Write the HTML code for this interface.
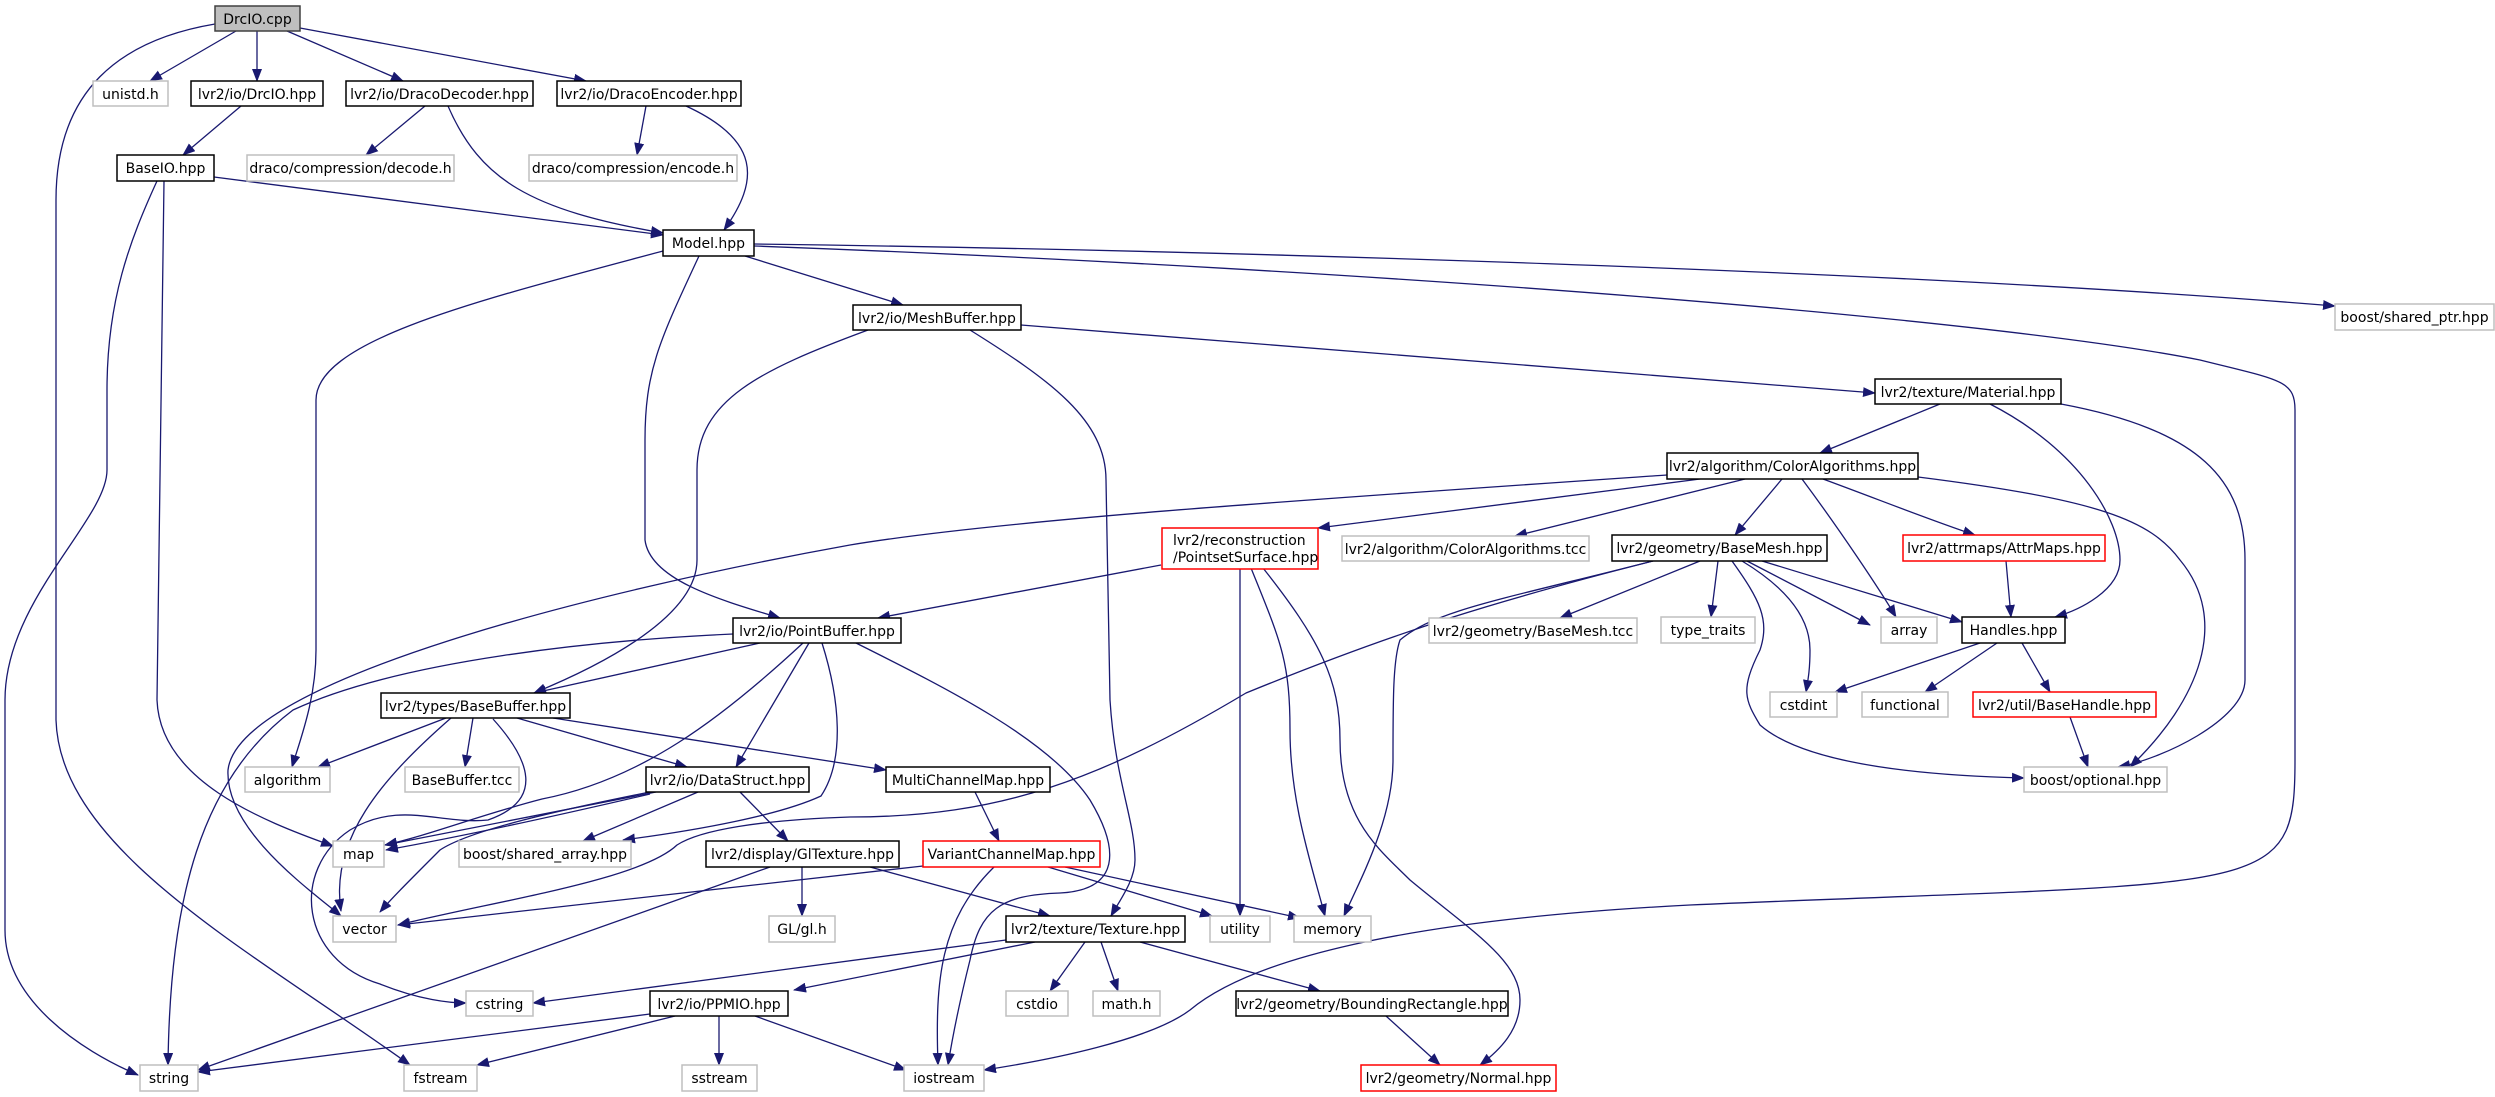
<!DOCTYPE html>
<html><head><meta charset="utf-8"><style>
html,body{margin:0;padding:0;background:#fff;}
svg{display:block;}
text{font-family:"DejaVu Sans","Liberation Sans",sans-serif;font-size:14px;fill:#000;}
.b{fill:#fff;stroke:#000;stroke-width:1.5;}
.g{fill:#fff;stroke:#bfbfbf;stroke-width:1.5;}
.r{fill:#fff;stroke:#ff0000;stroke-width:1.5;}
.e{fill:none;stroke:#191970;stroke-width:1.3;}
</style></head><body>
<svg width="2495" height="1097" viewBox="0 0 2495 1097" xmlns="http://www.w3.org/2000/svg">
<defs><marker id="a" markerUnits="userSpaceOnUse" markerWidth="13" markerHeight="10" refX="12" refY="5" orient="auto"><path d="M0,0 L13,5 L0,10 z" fill="#191970"/></marker></defs>
<g class="e" marker-end="url(#a)">
<path d="M236,31 L150,81"/>
<path d="M257,31 L257,81"/>
<path d="M287,31 L403,81"/>
<path d="M300,28 L586,81"/>
<path d="M215,24 C120,40 56,90 56,200 L56,720 C60,850 250,950 410,1065"/>
<path d="M241,106 L183,155"/>
<path d="M425,106 L366,155"/>
<path d="M448,106 C480,180 530,210 663,233"/>
<path d="M646,106 L637,155"/>
<path d="M686,106 C760,140 760,180 724,230"/>
<path d="M214,177 L663,235"/>
<path d="M157,181 C130,240 107,300 107,390 L107,470 C107,520 5,600 5,700 L5,930 C5,1000 80,1050 138,1075"/>
<path d="M164,181 L157,700 C160,780 260,820 333,846"/>
<path d="M663,251 C480,300 316,340 316,400 L316,650 C316,700 300,740 292,767"/>
<path d="M699,256 C660,340 645,370 645,440 L645,540 C650,580 720,600 780,618"/>
<path d="M745,256 L903,305"/>
<path d="M754,244 C1200,250 1900,270 2335,306"/>
<path d="M754,246 C1400,270 2000,320 2200,360 C2280,380 2295,380 2295,410 L2295,760 C2295,900 2270,880 1690,905 C1400,920 1250,960 1190,1010 C1150,1040 1050,1060 984,1070"/>
<path d="M868,330 C760,370 697,400 697,470 L697,560 C697,620 590,670 534,693"/>
<path d="M970,330 C1050,380 1106,420 1106,480 L1110,700 C1115,780 1135,820 1135,860 C1135,880 1120,900 1111,916"/>
<path d="M1021,325 L1875,393"/>
<path d="M1940,404 L1820,453"/>
<path d="M1990,404 C2080,450 2120,520 2120,560 C2120,590 2080,610 2055,617"/>
<path d="M2061,404 C2200,430 2245,480 2245,560 L2245,680 C2245,720 2160,760 2118,767"/>
<path d="M1667,475 C1300,500 1000,520 850,545 C600,590 238,680 228,770 C225,830 310,890 341,916"/>
<path d="M1700,479 L1318,528"/>
<path d="M1745,479 L1515,536"/>
<path d="M1782,479 L1735,535"/>
<path d="M1802,479 C1840,530 1880,590 1896,617"/>
<path d="M1823,479 C1880,500 1930,520 1975,535"/>
<path d="M1918,477 C2100,500 2150,520 2180,560 C2230,620 2200,700 2130,767"/>
<path d="M1161,565 L878,618"/>
<path d="M1240,568 L1240,916"/>
<path d="M1251,568 C1280,640 1290,660 1290,730 C1290,800 1310,860 1325,916"/>
<path d="M1263,568 C1320,640 1340,680 1340,740 C1340,820 1380,850 1410,880 C1470,930 1520,960 1520,1000 C1520,1030 1500,1050 1480,1065"/>
<path d="M1653,561 C1500,600 1400,630 1246,693 C1100,780 1000,817 850,817 C760,820 700,830 677,845 C640,880 500,900 398,925"/>
<path d="M1653,561 C1500,600 1436,610 1400,640 C1393,660 1393,700 1393,760 C1393,820 1360,880 1344,916"/>
<path d="M1700,561 L1560,618"/>
<path d="M1718,561 L1711,617"/>
<path d="M1747,561 L1870,625"/>
<path d="M1762,561 L1962,622"/>
<path d="M1742,561 C1790,590 1810,620 1810,650 C1810,670 1808,680 1806,692"/>
<path d="M1732,561 C1760,600 1770,620 1760,650 C1740,690 1745,700 1760,725 C1800,760 1900,775 2024,778"/>
<path d="M2006,561 L2011,617"/>
<path d="M1980,643 L1835,692"/>
<path d="M1997,643 L1925,692"/>
<path d="M2022,643 L2050,692"/>
<path d="M2070,717 L2088,767"/>
<path d="M733,634 C600,640 400,660 293,710 C200,780 170,900 168,1065"/>
<path d="M760,643 L534,693"/>
<path d="M803,643 C720,720 640,780 542,799 C480,815 430,835 385,845"/>
<path d="M809,643 L736,767"/>
<path d="M822,643 C840,700 845,760 821,796 C780,815 700,830 623,840"/>
<path d="M856,643 C950,690 1050,740 1090,800 C1120,850 1120,890 1060,893 C1000,895 980,910 970,960 C960,1000 952,1040 948,1065"/>
<path d="M446,718 L318,767"/>
<path d="M451,718 C380,780 330,840 341,911"/>
<path d="M473,718 L465,767"/>
<path d="M493,719 C530,760 545,800 488,820 C440,825 400,800 350,830 C290,870 300,960 380,984 C420,1000 450,1003 466,1003"/>
<path d="M517,718 L687,767"/>
<path d="M553,718 L886,770"/>
<path d="M656,792 L385,845"/>
<path d="M650,794 C560,815 470,835 386,850"/>
<path d="M698,792 L583,841"/>
<path d="M650,792 C560,810 470,830 440,850 C410,880 390,900 380,912"/>
<path d="M740,792 L788,841"/>
<path d="M802,867 L802,916"/>
<path d="M870,867 L1050,916"/>
<path d="M770,867 L198,1070"/>
<path d="M923,866 L398,925"/>
<path d="M975,792 L999,841"/>
<path d="M1048,867 L1212,916"/>
<path d="M1065,867 L1300,918"/>
<path d="M994,867 C940,920 935,980 938,1065"/>
<path d="M1006,940 L533,1003"/>
<path d="M1035,942 L794,990"/>
<path d="M1085,942 L1050,991"/>
<path d="M1101,942 L1118,991"/>
<path d="M1140,942 L1320,991"/>
<path d="M1386,1016 L1440,1065"/>
<path d="M650,1014 L198,1072"/>
<path d="M675,1016 L477,1065"/>
<path d="M719,1016 L719,1065"/>
<path d="M755,1016 L906,1070"/>
</g>
<g text-anchor="middle">
<rect x="215" y="6" width="85" height="25" fill="#bfbfbf" stroke="#404040" stroke-width="1.5"/><text x="257.5" y="24">DrcIO.cpp</text>
<rect class="g" x="93" y="81" width="75" height="25"/><text x="130.5" y="99">unistd.h</text>
<rect class="b" x="191" y="81" width="132" height="25"/><text x="257" y="99">lvr2/io/DrcIO.hpp</text>
<rect class="b" x="346" y="81" width="187" height="25"/><text x="439.5" y="99">lvr2/io/DracoDecoder.hpp</text>
<rect class="b" x="557" y="81" width="184" height="25"/><text x="649" y="99">lvr2/io/DracoEncoder.hpp</text>
<rect class="b" x="117" y="155" width="97" height="26"/><text x="165.5" y="173">BaseIO.hpp</text>
<rect class="g" x="247" y="155" width="207" height="26"/><text x="350.5" y="173">draco/compression/decode.h</text>
<rect class="g" x="529" y="155" width="208" height="26"/><text x="633" y="173">draco/compression/encode.h</text>
<rect class="b" x="663" y="230" width="91" height="26"/><text x="708.5" y="248">Model.hpp</text>
<rect class="b" x="853" y="305" width="168" height="25"/><text x="937" y="323">lvr2/io/MeshBuffer.hpp</text>
<rect class="g" x="2335" y="304" width="159" height="26"/><text x="2414.5" y="322">boost/shared_ptr.hpp</text>
<rect class="b" x="1875" y="379" width="186" height="25"/><text x="1968" y="397">lvr2/texture/Material.hpp</text>
<rect class="b" x="1667" y="453" width="251" height="26"/><text x="1792.5" y="471">lvr2/algorithm/ColorAlgorithms.hpp</text>
<rect class="r" x="1162" y="528" width="156" height="41"/>
<rect class="g" x="1342" y="536" width="247" height="25"/><text x="1465.5" y="554">lvr2/algorithm/ColorAlgorithms.tcc</text>
<rect class="b" x="1612" y="535" width="215" height="26"/><text x="1719.5" y="553">lvr2/geometry/BaseMesh.hpp</text>
<rect class="r" x="1903" y="535" width="202" height="26"/><text x="2004" y="553">lvr2/attrmaps/AttrMaps.hpp</text>
<rect class="b" x="733" y="618" width="168" height="25"/><text x="817" y="636">lvr2/io/PointBuffer.hpp</text>
<rect class="g" x="1429" y="618" width="208" height="25"/><text x="1533" y="636">lvr2/geometry/BaseMesh.tcc</text>
<rect class="g" x="1661" y="617" width="94" height="26"/><text x="1708" y="635">type_traits</text>
<rect class="g" x="1881" y="617" width="56" height="26"/><text x="1909" y="635">array</text>
<rect class="b" x="1962" y="617" width="103" height="26"/><text x="2013.5" y="635">Handles.hpp</text>
<rect class="b" x="381" y="693" width="189" height="25"/><text x="475.5" y="711">lvr2/types/BaseBuffer.hpp</text>
<rect class="g" x="1770" y="692" width="67" height="25"/><text x="1803.5" y="710">cstdint</text>
<rect class="g" x="1862" y="692" width="86" height="25"/><text x="1905" y="710">functional</text>
<rect class="r" x="1973" y="692" width="183" height="25"/><text x="2064.5" y="710">lvr2/util/BaseHandle.hpp</text>
<rect class="g" x="245" y="767" width="85" height="25"/><text x="287.5" y="785">algorithm</text>
<rect class="g" x="405" y="767" width="114" height="25"/><text x="462" y="785">BaseBuffer.tcc</text>
<rect class="b" x="646" y="767" width="163" height="25"/><text x="727.5" y="785">lvr2/io/DataStruct.hpp</text>
<rect class="b" x="886" y="767" width="164" height="25"/><text x="968" y="785">MultiChannelMap.hpp</text>
<rect class="g" x="2024" y="767" width="143" height="25"/><text x="2095.5" y="785">boost/optional.hpp</text>
<rect class="g" x="333" y="841" width="51" height="26"/><text x="358.5" y="859">map</text>
<rect class="g" x="459" y="841" width="172" height="26"/><text x="545" y="859">boost/shared_array.hpp</text>
<rect class="b" x="706" y="841" width="193" height="26"/><text x="802.5" y="859">lvr2/display/GlTexture.hpp</text>
<rect class="r" x="923" y="841" width="177" height="26"/><text x="1011.5" y="859">VariantChannelMap.hpp</text>
<rect class="g" x="333" y="916" width="63" height="26"/><text x="364.5" y="934">vector</text>
<rect class="g" x="769" y="916" width="66" height="26"/><text x="802" y="934">GL/gl.h</text>
<rect class="b" x="1006" y="916" width="179" height="26"/><text x="1095.5" y="934">lvr2/texture/Texture.hpp</text>
<rect class="g" x="1210" y="916" width="60" height="26"/><text x="1240" y="934">utility</text>
<rect class="g" x="1294" y="916" width="77" height="26"/><text x="1332.5" y="934">memory</text>
<rect class="g" x="466" y="991" width="67" height="25"/><text x="499.5" y="1009">cstring</text>
<rect class="b" x="650" y="991" width="138" height="25"/><text x="719" y="1009">lvr2/io/PPMIO.hpp</text>
<rect class="g" x="1006" y="991" width="62" height="25"/><text x="1037" y="1009">cstdio</text>
<rect class="g" x="1093" y="991" width="67" height="25"/><text x="1126.5" y="1009">math.h</text>
<rect class="b" x="1236" y="991" width="272" height="25"/><text x="1372" y="1009">lvr2/geometry/BoundingRectangle.hpp</text>
<rect class="g" x="140" y="1065" width="58" height="26"/><text x="169" y="1083">string</text>
<rect class="g" x="404" y="1065" width="73" height="26"/><text x="440.5" y="1083">fstream</text>
<rect class="g" x="682" y="1065" width="75" height="26"/><text x="719.5" y="1083">sstream</text>
<rect class="g" x="904" y="1065" width="80" height="26"/><text x="944" y="1083">iostream</text>
<rect class="r" x="1361" y="1065" width="195" height="26"/><text x="1458.5" y="1083">lvr2/geometry/Normal.hpp</text>
</g>
<text x="1173" y="545">lvr2/reconstruction</text>
<text x="1173" y="562">/PointsetSurface.hpp</text>
</svg>
</body></html>
